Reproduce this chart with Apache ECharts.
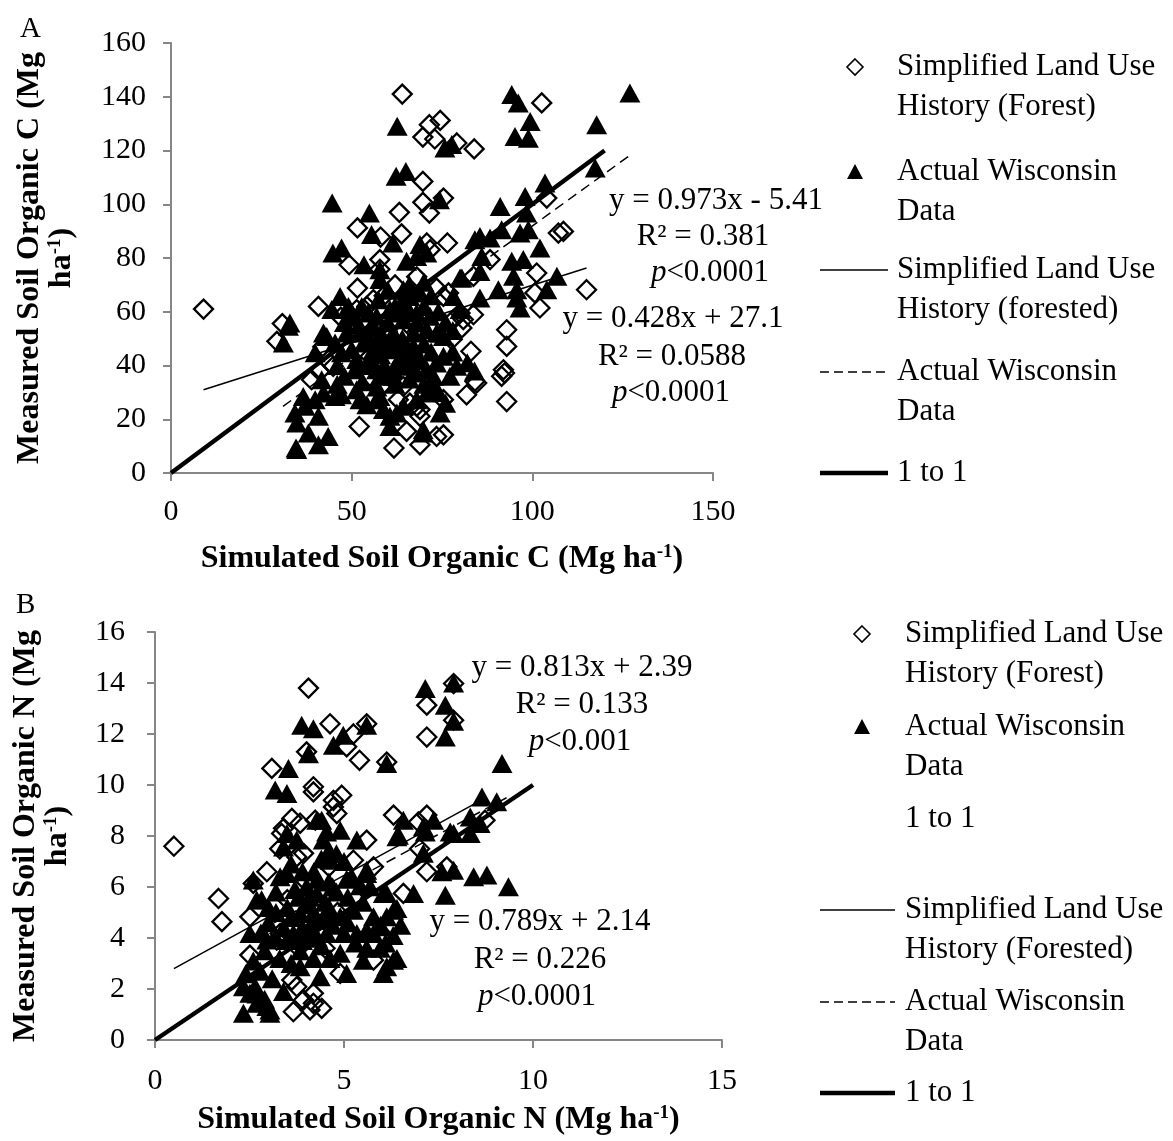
<!DOCTYPE html>
<html><head><meta charset="utf-8">
<script src="https://cdn.jsdelivr.net/npm/echarts@6/dist/echarts.min.js"></script>
<style>html,body{margin:0;padding:0;background:#fff}#c{width:1173px;height:1141px}</style>
</head><body><div id="c"></div>
<script>
// ---------- Panel A: Soil organic C (Mg ha-1) ----------
const simForestA = [
[9,61],[64,141],[71.5,129.6],[74.5,131.2],[69.7,125],[73,124.3],[79.1,122.8],[83.9,120.6],[102.6,137.7],
[69.7,108.5],[69.7,100.7],[71.5,96.7],[63.2,97],[75.4,102.3],[104,102.3],
[51.6,91.2],[63.8,89],[58,87.8],[76.5,85.6],[70.8,85.6],[71.7,83.1],[107.2,89.3],[108.6,89.9],
[49.3,77.5],[57.8,79.4],[57.8,75.8],[88.3,79.4],[83.7,73.2],[101.2,74.4],
[51.6,68.8],[73.5,68.8],[75.4,65.7],[76.8,67],[100.7,67],[115,68.2],[62,70],[68,73],[59,66],
[40.8,62],[51.4,60.8],[56,64.5],[54.2,62],[102.1,61.4],[83.7,58.9],[80.9,57.1],[80,59.5],[78.1,57],
[30.8,55.6],[29.3,49],[53.2,55.8],[62.5,57],[66.1,54.6],[80.5,54],[92.9,53.3],[47,58],
[77.7,49.6],[92.9,47.1],[83,45.3],[44,40.9],[44.9,39.7],[41.2,37.8],[55.1,43.4],[60,50],[66,44],[42,47],
[84.1,34.1],[84.6,33.5],[92,38.4],[91.5,36],[92.3,37.2],[38.9,34.7],[55.1,36],[64.3,32.2],[71,40],
[81.8,29.1],[92.9,26.6],[62.9,27.3],[66.1,26],[68,24.8],[68.9,23.6],[75.4,27.3],[68.9,21.1],[58,32],
[52.1,17.3],[65.2,15.5],[73.5,13.6],[75.4,14.2],[61.7,9.3],[68.9,10.5]
];
const actualWisA = [
[62.6,129],[75.8,120.9],[77.7,122.2],[62.3,110.4],[65,112.2],[74.3,101.7],[44.6,100.5],[54.9,96.7],
[55.5,88.7],[61.4,85.6],[44.8,81.9],[47.2,83.7],[53.4,77.5],[57.8,75.6],[57.8,72],[65.2,78.8],[68,80.6],
[68.9,85],[70.8,81.9],[80.5,72.6],[84.1,86.8],[32.5,54.6],[31.1,48.4],[32.9,55.8],[44.5,60.8],[46.8,65.7],
[49.1,62],[49.5,60.8],[52.8,62],[54.6,59.5],[57.4,64.5],[64.3,68.2],[68.9,67],[66.1,65.7],[65.2,62],[68,59.5],
[62.5,59.5],[80,60.8],[56.9,58.3],[60.6,60.8],[64.3,57],[68,55.8],[71.7,58.3],[73.5,52.1],[75.4,50.8],
[43.1,50.8],[45.4,48.4],[42.2,52.1],[48.6,52.1],[39.9,44.7],[47.2,44.7],[52.8,52.1],[53.3,48.4],[56,54.6],
[57.8,48.4],[61.5,52.1],[60.6,45.9],[67.1,52.1],[67.1,47.1],[70.8,53.3],[74.5,52.1],[59.7,48.4],[56,45.9],
[51.4,42.2],[55.1,42.2],[56.9,38.4],[59.7,37.2],[61.5,38.4],[57.8,36],[61.5,36],[64.3,44.7],[65.2,39.7],
[63.4,40.9],[68.9,42.2],[70.8,38.4],[72.6,36],[75.4,43.4],[77.2,36],[79.1,39.7],[73.5,40.9],[68,37.2],
[50.9,38.4],[41.7,34.7],[42.2,29.8],[45.4,28.5],[47.2,29.1],[39.9,27.3],[36.6,28.5],[51.4,31],[52.3,27.3],
[54.2,25.4],[56.9,27.3],[58.8,23.6],[60.6,21.1],[57.8,28.5],[62.5,22.3],[60.6,17.3],[64.3,24.8],[68,27.3],
[70.8,29.8],[72.6,32.2],[74.5,22.3],[69.8,16.1],[69.8,14.9],[34.3,22.3],[37.1,24.8],[40.8,21.1],[34.8,18.6],
[38,14.9],[43.5,13.6],[40.8,10.5],[34.6,9.3],[34.8,8.7],
[48,56],[50,58],[52,55],[55,50],[58,52],[60,56],[62,62],[64,64],[66,60],[70,62],[72,66],[74,60],[76,56],
[78,53],[70,48],[72,45],[62,48],[64,50],[58,44],[54,40],[50,46],[46,40],[48,36],[53,34],[57,32],[62,33],
[66,35],[70,33],[74,30],[76,26],[78,45],[82,41],[84,38],[46,33],[63,42],[67,42],[59,40],[66,70],[70,71],[60,68],
[94.3,140.8],[96.1,137.7],[127,141.4],[99.4,130.8],[95.2,125.2],[98.9,124.6],[117.8,129.6],[117.4,113.5],
[103.5,107.9],[91.1,99.2],[98,102.9],[98.4,96.7],[85.5,88],[88.3,87.4],[91.5,90.5],[96.6,89.3],[98.9,90.5],
[102.1,83.7],[86,80.6],[94.3,78.8],[97.5,79.4],[80,72.6],[85.5,75],[94.8,73.2],[90.6,68.2],[85.5,65.1],
[95.7,68.2],[95.7,65.1],[106.8,73.2],[96.6,61.4],[104,68.2],[78.1,65.7]
];
const trendForestA = [[9, 31.0], [115, 76.3]];
const trendWisA = [[31, 24.8], [127, 118.2]];
const oneToOneA = [[0, 0], [120, 120]];

// ---------- Panel B: Soil organic N (Mg ha-1) ----------
const simForestB = [
[0.5,7.6],[4.06,13.8],[4.63,12.4],[5.25,12.0],[5.6,12.4],[4.01,11.3],[5.07,11.5],[5.41,10.97],[6.13,10.9],
[3.09,10.65],[7.19,13.13],[7.19,11.88],[7.9,12.54],[7.9,13.98],
[4.19,9.93],[4.19,9.73],[4.94,9.6],[4.72,9.4],[4.81,8.88],[4.72,9.14],[3.62,8.69],[3.84,8.5],[3.35,8.1],
[3.4,8.3],[4.24,8.62],[5.6,7.84],[6.31,8.82],[6.97,8.55],[7.19,8.82],[8.73,8.62],
[3.75,7.18],[3.93,7.32],[7.19,6.6],[7.72,6.79],[7.0,7.5],[5.25,7.05],[5.78,6.79],[2.96,6.6],[2.6,6.14],
[1.68,5.55],[1.77,4.64],[2.51,4.83],[2.51,3.33],[6.57,5.75],[6.04,4.1],[5.78,3.13],[3.31,4.18],[3.22,3.92],
[4.5,3.6],[4.83,5.0],[3.5,5.5],[4.0,6.2],[4.4,4.4],[3.8,3.6],[4.6,6.8],[3.3,7.5],
[3.62,2.35],[3.75,2.09],[3.66,1.11],[4.1,1.18],[4.41,1.24],[3.93,1.57],[4.19,1.83],[4.9,2.61],[4.19,1.44]
];
const actualWisB = [
[7.15,13.78],[7.68,13.13],[7.9,14.0],[7.9,12.5],[7.68,11.88],[3.88,12.34],[4.19,12.21],[4.98,11.95],
[4.72,11.56],[5.6,12.34],[4.06,11.23],[6.13,10.84],[3.53,10.65],[9.18,10.84],
[3.18,9.8],[3.49,9.67],[6.57,8.62],[7.37,8.62],[6.44,8.03],[7.15,8.16],[7.9,8.1],[4.41,8.62],[4.54,8.16],
[5.34,7.84],[3.49,8.1],[3.75,7.84],[4.6,7.4],[4.28,8.62],[4.9,8.23],[4.45,7.84],[6.4,7.97],[3.4,7.57],[4.63,7.05],
[8.65,9.53],[9.04,9.34],[8.34,8.75],[8.6,8.49],[7.1,8.36],[7.81,8.16],[8.34,8.1],[7.1,7.32],
[7.59,6.6],[7.9,6.66],[8.43,6.4],[8.78,6.47],[9.35,6.01],[7.68,5.68],[6.84,5.75],[6.4,5.16],
[6.04,5.75],[5.6,6.53],[5.07,6.3],[5.43,6.05],[5.6,6.66],[5.69,6.01],[6.13,5.75],
[2.6,6.27],[3.31,6.4],[3.49,6.53],[2.69,5.49],[2.82,5.5],[4.01,6.01],[4.28,5.75],
[5.78,4.83],[6.13,4.83],[6.31,5.09],[5.6,4.3],[5.97,4.5],[6.1,3.8],
[6.4,3.2],[6.13,2.87],[5.51,3.13],[5.07,2.61],[6.31,3.13],[6.04,2.61],
[2.34,2.09],[2.65,2.09],[2.34,1.05],[2.69,1.44],[3.04,1.18],[2.7,1.8],[2.9,1.6],[2.6,3.1],[2.78,2.7],
[2.51,1.83],[2.96,1.31],[3.04,1.05],[4.37,2.48],[3.84,2.87],
[2.51,4.18],[2.96,3.92],[3.84,4.96],[4.19,4.7],[4.54,4.96],[4.9,4.83],[5.25,5.09],[3.66,4.18],[4.1,4.18],
[4.54,4.18],[5.0,4.18],[5.34,4.18],[5.78,4.18],[5.96,4.44],[5.6,3.6],[5.96,3.6],[6.3,4.1],[6.5,4.5],
[3.84,3.5],[4.19,3.2],[4.63,3.2],
[3.2,5.0],[3.5,5.2],[3.8,5.6],[4.2,6.6],[4.5,5.4],[4.8,5.8],[3.0,4.6],[3.3,3.2],[3.6,3.0],[4.0,5.3],
[4.6,6.2],[5.0,7.0],[2.8,4.2],[2.4,2.6],[3.1,2.4],[3.4,1.9],
[3.4,4.4],[3.6,4.8],[3.9,4.4],[4.3,4.0],[4.7,4.5],[5.1,4.6],[3.7,5.9],[4.1,5.6],[4.3,6.3],[4.7,6.0],
[5.1,5.6],[3.9,6.6],[4.4,7.1],[4.8,7.3],[3.6,6.9],[3.9,3.9],[4.4,3.7],[4.9,3.4],[5.3,3.8],[3.2,5.8],
[3.0,5.2],[4.2,5.0],[4.6,5.2],[5.5,5.4],[5.2,6.4],[3.5,3.9],[2.9,3.5],[3.2,4.0],[4.0,4.0],[4.5,4.7]
];
const trendForestB = [[0.5, 2.8], [8.5, 9.3]];
const trendWisB = [[2.4, 4.0], [9.3, 9.5]];
const oneToOneB = [[0, 0], [10, 10]];

// tick settings
const xTicksA = {min: 0, max: 150, interval: 50};
const yTicksA = {min: 0, max: 160, interval: 20};
const xTicksB = {min: 0, max: 15, interval: 5};
const yTicksB = {min: 0, max: 16, interval: 2};

const FONT = '"Liberation Serif","Times New Roman",serif';
const AX = '#868686';

function axisBase(t, gi, name, gap, isY, lblMargin) {
  return Object.assign({
    type: 'value', gridIndex: gi,
    name: name, nameLocation: 'middle', nameGap: gap, nameRotate: isY ? 90 : 0,
    nameTextStyle: {fontFamily: FONT, fontSize: 32, fontWeight: 'bold', color: '#000', lineHeight: 32,
      rich: {sup: {fontFamily: FONT, fontSize: 19, fontWeight: 'bold', color: '#000', verticalAlign: 'top', lineHeight: 30}}},
    axisLine: {show: true, onZero: false, lineStyle: {color: AX, width: 2}},
    axisTick: {show: true, length: 8, lineStyle: {color: AX, width: 2}},
    splitLine: {show: false},
    axisLabel: {fontFamily: FONT, fontSize: 30, color: '#000', margin: lblMargin}
  }, t);
}

function scatterSeries(data, gi, kind) {
  const diamond = kind === 'diamond';
  return {
    type: 'scatter', xAxisIndex: gi, yAxisIndex: gi, data: data,
    symbol: diamond ? 'diamond' : 'triangle', symbolSize: diamond ? 19 : [21, 19],
    itemStyle: diamond ? {color: 'rgba(255,255,255,0)', borderColor: '#000', borderWidth: 2.3, opacity: 1}
                       : {color: '#000', opacity: 1},
    z: diamond ? 2 : 3, silent: true
  };
}
function lineSeries(data, gi, width, dash) {
  return {
    type: 'line', xAxisIndex: gi, yAxisIndex: gi, data: data, symbol: 'none', showSymbol: false,
    lineStyle: {color: '#000', width: width, type: dash ? [10, 6] : 'solid'}, z: 5, silent: true
  };
}

const tx = (x, y, text, extra) => ({type: 'text', x: x, y: y, silent: true,
  style: Object.assign({text: text, fill: '#000', font: '31px ' + FONT, lineHeight: 40, verticalAlign: 'top',
    rich: {i: {fontStyle: 'italic', fontFamily: FONT, fontSize: 31}}}, extra || {})});
const eq = (x, y, text) => tx(x, y, text, {align: 'center', verticalAlign: 'middle'});
const hline = (x1, x2, y, w, dash) => ({type: 'line', silent: true, shape: {x1: x1, y1: y, x2: x2, y2: y},
  style: {stroke: '#000', lineWidth: w, lineDash: dash ? [9, 5] : null}});
const diamondIcon = (cx, cy) => ({type: 'polygon', silent: true,
  shape: {points: [[cx, cy - 8], [cx + 8, cy], [cx, cy + 8], [cx - 8, cy]]}, style: {fill: 'none', stroke: '#000', lineWidth: 1.6}});
const triIcon = (cx, cy) => ({type: 'polygon', silent: true,
  shape: {points: [[cx, cy - 8], [cx + 8, cy + 7], [cx - 8, cy + 7]]}, style: {fill: '#000'}});

const graphics = [
  tx(20, 9, 'A', {font: '29px ' + FONT}),
  tx(16, 585, 'B', {font: '29px ' + FONT}),
  // legend A
  diamondIcon(855, 67), tx(897, 47, 'Simplified Land Use\nHistory (Forest)'),
  triIcon(855, 172), tx(897, 152, 'Actual Wisconsin\nData'),
  hline(820, 888, 270, 1.5), tx(897, 250, 'Simplified Land Use\nHistory (forested)'),
  hline(820, 888, 372, 1.5, true), tx(897, 352, 'Actual Wisconsin\nData'),
  hline(820, 888, 473, 4.5), tx(897, 453, '1 to 1'),
  // legend B
  diamondIcon(862, 634), tx(905, 614, 'Simplified Land Use\nHistory (Forest)'),
  triIcon(862, 727), tx(905, 707, 'Actual Wisconsin\nData'),
  tx(905, 799, '1 to 1'),
  hline(820, 895, 910, 1.5), tx(905, 890, 'Simplified Land Use\nHistory (Forested)'),
  hline(820, 895, 1002, 1.5, true), tx(905, 982, 'Actual Wisconsin\nData'),
  hline(820, 895, 1093, 4.5), tx(905, 1073, '1 to 1'),
  // equations A
  eq(716, 201, 'y = 0.973x - 5.41'), eq(703, 237, 'R² = 0.381'), eq(710, 273, '{i|p}<0.0001'),
  eq(673, 319, 'y = 0.428x + 27.1'), eq(672, 357, 'R² = 0.0588'), eq(671, 393, '{i|p}<0.0001'),
  // equations B
  eq(582, 668, 'y = 0.813x + 2.39'), eq(582, 705, 'R² = 0.133'), eq(580, 742, '{i|p}<0.001'),
  eq(540, 922, 'y = 0.789x + 2.14'), eq(540, 960, 'R² = 0.226'), eq(537, 997, '{i|p}<0.0001')
];

const chart = echarts.init(document.getElementById('c'), null, {renderer: 'canvas'});
chart.setOption({
  animation: false,
  backgroundColor: '#fff',
  grid: [
    {left: 171, top: 43, width: 542, height: 430},
    {left: 155, top: 632, width: 567, height: 408}
  ],
  xAxis: [
    axisBase(xTicksA, 0, 'Simulated Soil Organic C (Mg ha{sup|-1})', 70, false, 24),
    axisBase(xTicksB, 1, 'Simulated Soil Organic N (Mg ha{sup|-1})', 64, false, 26)
  ],
  yAxis: [
    axisBase(yTicksA, 0, 'Measured Soil Organic C (Mg\nha{sup|-1})', 93, true, 25),
    axisBase(yTicksB, 1, 'Measured Soil Organic N (Mg\nha{sup|-1})', 81, true, 30)
  ],
  series: [
    scatterSeries(simForestA, 0, 'diamond'),
    scatterSeries(actualWisA, 0, 'triangle'),
    lineSeries(trendForestA, 0, 1.5, false),
    lineSeries(trendWisA, 0, 1.5, true),
    lineSeries(oneToOneA, 0, 4.5, false),
    scatterSeries(simForestB, 1, 'diamond'),
    scatterSeries(actualWisB, 1, 'triangle'),
    lineSeries(trendForestB, 1, 1.5, false),
    lineSeries(trendWisB, 1, 1.5, true),
    lineSeries(oneToOneB, 1, 4.5, false)
  ],
  graphic: graphics
});
</script></body></html>
